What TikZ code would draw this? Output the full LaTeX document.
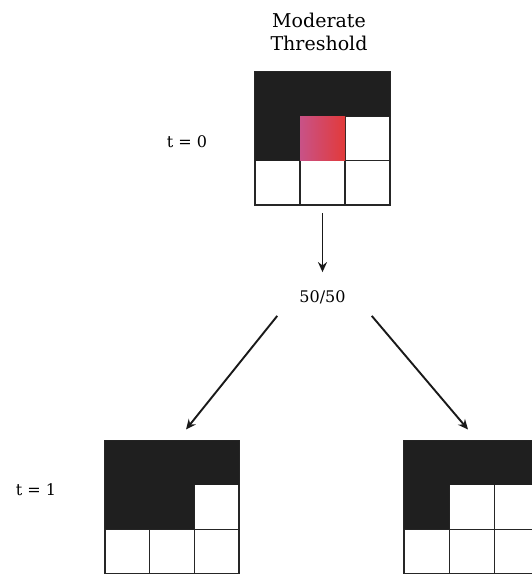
\documentclass[tikz,border=0pt]{standalone}
\usepackage{fontspec}
\setmainfont{DejaVu Serif}
\usetikzlibrary{arrows.meta}
\begin{document}
\begin{tikzpicture}[x=1pt,y=-1pt,
  cell/.style={draw=black!85,line width=1.1pt},
  lbl/.style={font=\fontsize{16}{19}\selectfont,inner sep=2pt},
  ttl/.style={font=\fontsize{19}{23}\selectfont,align=center,inner sep=2pt},
  arr/.style={draw=black!90,line width=1.9pt,-{Stealth[length=10pt,width=9pt]}},
  frame/.style={minimum width=#1,minimum height=133pt,inner sep=0pt,outer sep=0pt}
]
\useasboundingbox (0,0) rectangle (532,578);
\clip (0,0) rectangle (532,578);

% 3x3 grids of cells
\def\cw{45}
\def\ch{44.33}
\node[frame=135pt] (g0) at (322.5,138.5) {};
\node[frame=134pt] (gL) at (172,507) {};
\node[frame=136pt] (gR) at (472,507) {};

% top grid: L-shaped dark region and one red cell
\foreach \r in {0,1,2}
  \foreach \c in {0,1,2}
    \draw[cell] ([shift={(\c*\cw,\r*\ch)}]g0.north west) rectangle +(\cw,\ch);
\fill[black!88] (g0.north west) -- ++(135,0) -- ++(0,\ch) -- ++(-90,0) -- ++(0,\ch) -- ++(-45,0) -- cycle;
\shade[left color={rgb,255:red,200;green,82;blue,135},right color={rgb,255:red,226;green,58;blue,58}]
  ([shift={(\cw,\ch)}]g0.north west) rectangle +(\cw,\ch);

% lower left grid
\foreach \r in {0,1,2}
  \foreach \c in {0,1,2}
    \draw[cell] ([shift={(\c*44.67,\r*\ch)}]gL.north west) rectangle +(44.67,\ch);
\fill[black!88] (gL.north west) -- ++(134,0) -- ++(0,\ch) -- ++(-44.67,0) -- ++(0,\ch) -- ++(-89.33,0) -- cycle;

% lower right grid
\foreach \r in {0,1,2}
  \foreach \c in {0,1,2}
    \draw[cell] ([shift={(\c*45.33,\r*\ch)}]gR.north west) rectangle +(45.33,\ch);
\fill[black!88] (gR.north west) -- ++(136,0) -- ++(0,\ch) -- ++(-90.67,0) -- ++(0,\ch) -- ++(-45.33,0) -- cycle;

% labels
\node[ttl] (title) at (319,32) {Moderate\\Threshold};
\node[lbl] (t0) at (187,142) {t = 0};
\node[lbl] (t1) at (36,490) {t = 1};
\node[lbl] (split) at (322.5,297) {50/50};

% arrows
\draw[arr] ([shift={(0,8)}]g0.south) -- ([shift={(0,-16)}]split.north);
\draw[arr] ([shift={(-20,10)}]split.south west) -- ([shift={(14,-11)}]gL.north);
\draw[arr] ([shift={(24,10)}]split.south east) -- ([shift={(-4,-11)}]gR.north);
\end{tikzpicture}
\end{document}
